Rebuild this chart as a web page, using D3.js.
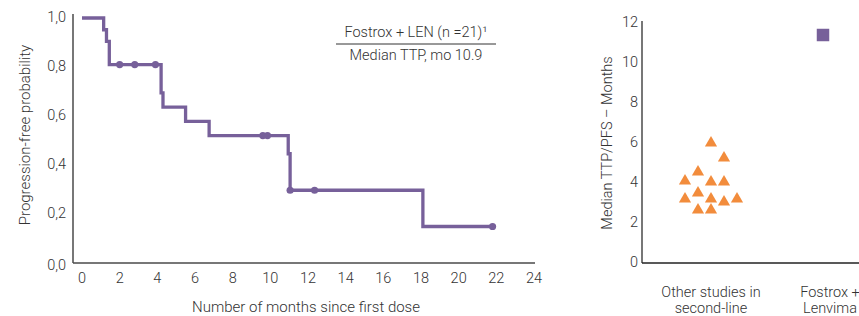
<!DOCTYPE html>
<html>
<head>
<meta charset="utf-8">
<script src="https://cdn.jsdelivr.net/npm/d3@7"></script>
<style>
  body { margin: 0; background: #fff; }
  svg text { font-family: Roboto, "Open Sans", sans-serif; font-weight: 300; fill: #333; }
</style>
</head>
<body>
<div id="visualization"></div>
<script>
// Kaplan-Meier curve (step points: month, survival)
const kmTimes    = [0, 1.15, 1.3, 1.45, 4.2, 4.3, 5.5, 6.75, 10.95, 11.05, 18.1, 21.8];
const kmSurvival = [1.0, 0.952, 0.905, 0.81, 0.694, 0.636, 0.578, 0.52, 0.446, 0.297, 0.149, 0.149];
// censored marks
const censorTimes    = [2.0, 2.8, 3.9, 9.6, 9.85, 11.05, 12.35, 21.8];
const censorSurvival = [0.81, 0.81, 0.81, 0.52, 0.52, 0.297, 0.297, 0.149];

const xTicks = [0, 2, 4, 6, 8, 10, 12, 14, 16, 18, 20, 22, 24];
const yTicks = [0, 0.2, 0.4, 0.6, 0.8, 1.0];

// right panel
const categories = ["Other studies in second-line", "Fostrox + Lenvima"];
const otherStudies = [6.0, 5.25, 4.55, 4.1, 4.05, 4.05, 3.5, 3.2, 3.2, 3.05, 3.2, 2.65, 2.65];
const otherColumn  = [0, 1, -1, -2, 0, 1, -1, -2, 0, 1, 2, -1, 0];
const fostroxMedian = 11.4;
const rightTicks = [0, 2, 4, 6, 8, 10, 12];

const purple = "#77609a";
const orange = "#f28c3c";
const axisColor = "#4a4a4a";

const svg = d3.select("#visualization")
    .append("svg")
    .attr("width", 859)
    .attr("height", 316);

// ---- left chart ----
const x = d3.scaleLinear().domain([0, 24]).range([82, 534]);
const y = d3.scaleLinear().domain([0, 1]).range([263, 18]);

const left = svg.append("g");

left.append("line")
    .attr("x1", 73).attr("x2", 73)
    .attr("y1", 14).attr("y2", 263)
    .style("stroke", axisColor).style("stroke-width", 1.5);
left.append("line")
    .attr("x1", 73).attr("x2", 535)
    .attr("y1", 263).attr("y2", 263)
    .style("stroke", axisColor).style("stroke-width", 1.5);

left.selectAll(".ytick")
    .data(yTicks)
    .enter().append("text")
    .attr("class", "ytick")
    .attr("x", 66)
    .attr("y", (d) => y(d) + (d === 0 ? 3 : 0))
    .attr("text-anchor", "end")
    .attr("dominant-baseline", "middle")
    .style("font-size", "14.5px")
    .text((d) => d3.format(".1f")(d).replace(".", ","));

left.selectAll(".xtick")
    .data(xTicks)
    .enter().append("text")
    .attr("class", "xtick")
    .attr("x", (d) => x(d))
    .attr("y", 283)
    .attr("text-anchor", "middle")
    .style("font-size", "14.5px")
    .text((d) => d);

const kmData = kmTimes.map((t, i) => [t, kmSurvival[i]]);
left.append("path")
    .datum(kmData)
    .attr("d", d3.line().x((d) => x(d[0])).y((d) => y(d[1])).curve(d3.curveStepAfter))
    .style("fill", "none")
    .style("stroke", purple)
    .style("stroke-width", 3.3);

left.selectAll(".censor")
    .data(censorTimes.map((t, i) => [t, censorSurvival[i]]))
    .enter().append("circle")
    .attr("class", "censor")
    .attr("cx", (d) => x(d[0]))
    .attr("cy", (d) => y(d[1]))
    .attr("r", 3.6)
    .style("fill", purple);

left.append("text")
    .attr("transform", "translate(30,135) rotate(-90)")
    .attr("text-anchor", "middle")
    .style("font-size", "15px")
    .text("Progression-free probability");

left.append("text")
    .attr("x", 306).attr("y", 312)
    .attr("text-anchor", "middle")
    .style("font-size", "15px")
    .text("Number of months since first dose");

// legend box
left.append("text")
    .attr("x", 416).attr("y", 37)
    .attr("text-anchor", "middle")
    .style("font-size", "14.5px")
    .text("Fostrox + LEN (n =21)¹");
left.append("line")
    .attr("x1", 336).attr("x2", 496)
    .attr("y1", 44).attr("y2", 44)
    .style("stroke", "#333").style("stroke-width", 1);
left.append("text")
    .attr("x", 416).attr("y", 60)
    .attr("text-anchor", "middle")
    .style("font-size", "14.5px")
    .text("Median TTP, mo 10.9");

// ---- right chart ----
const x2 = d3.scalePoint().domain(categories).range([711, 823]);
const y2 = d3.scaleLinear().domain([0, 12]).range([263, 23]);

const right = svg.append("g");

right.append("line")
    .attr("x1", 642).attr("x2", 642)
    .attr("y1", 21).attr("y2", 263)
    .style("stroke", axisColor).style("stroke-width", 1.5);
right.append("line")
    .attr("x1", 642).attr("x2", 859)
    .attr("y1", 263).attr("y2", 263)
    .style("stroke", "#222").style("stroke-width", 1.5);

right.selectAll(".ytick2")
    .data(rightTicks)
    .enter().append("text")
    .attr("class", "ytick2")
    .attr("x", 638)
    .attr("y", (d) => y2(d))
    .attr("text-anchor", "end")
    .attr("dominant-baseline", "middle")
    .style("font-size", "14.5px")
    .text((d) => d);

right.append("text")
    .attr("transform", "translate(612,143) rotate(-90)")
    .attr("text-anchor", "middle")
    .style("font-size", "14.5px")
    .text("Median TTP/PFS – Months");

const catLines = [["Other studies in", "second-line"], ["Fostrox +", "Lenvima"]];
const catShift = [0, 7];
categories.forEach((c, i) => {
    const t = right.append("text")
        .attr("x", x2(c) + catShift[i])
        .attr("y", 297)
        .attr("text-anchor", "middle")
        .style("font-size", "14.5px");
    catLines[i].forEach((line, j) => {
        t.append("tspan")
            .attr("x", x2(c) + catShift[i])
            .attr("dy", j === 0 ? 0 : 16)
            .text(line);
    });
});

right.selectAll(".tri")
    .data(otherStudies)
    .enter().append("path")
    .attr("class", "tri")
    .attr("d", d3.symbol().type(d3.symbolTriangle).size(64))
    .attr("transform", (d, i) => "translate(" + (x2(categories[0]) + otherColumn[i] * 13) + "," + y2(d) + ")")
    .style("fill", orange);

right.append("path")
    .attr("d", d3.symbol().type(d3.symbolSquare).size(156))
    .attr("transform", "translate(" + x2(categories[1]) + "," + y2(fostroxMedian) + ")")
    .style("fill", purple);
</script>
</body>
</html>
